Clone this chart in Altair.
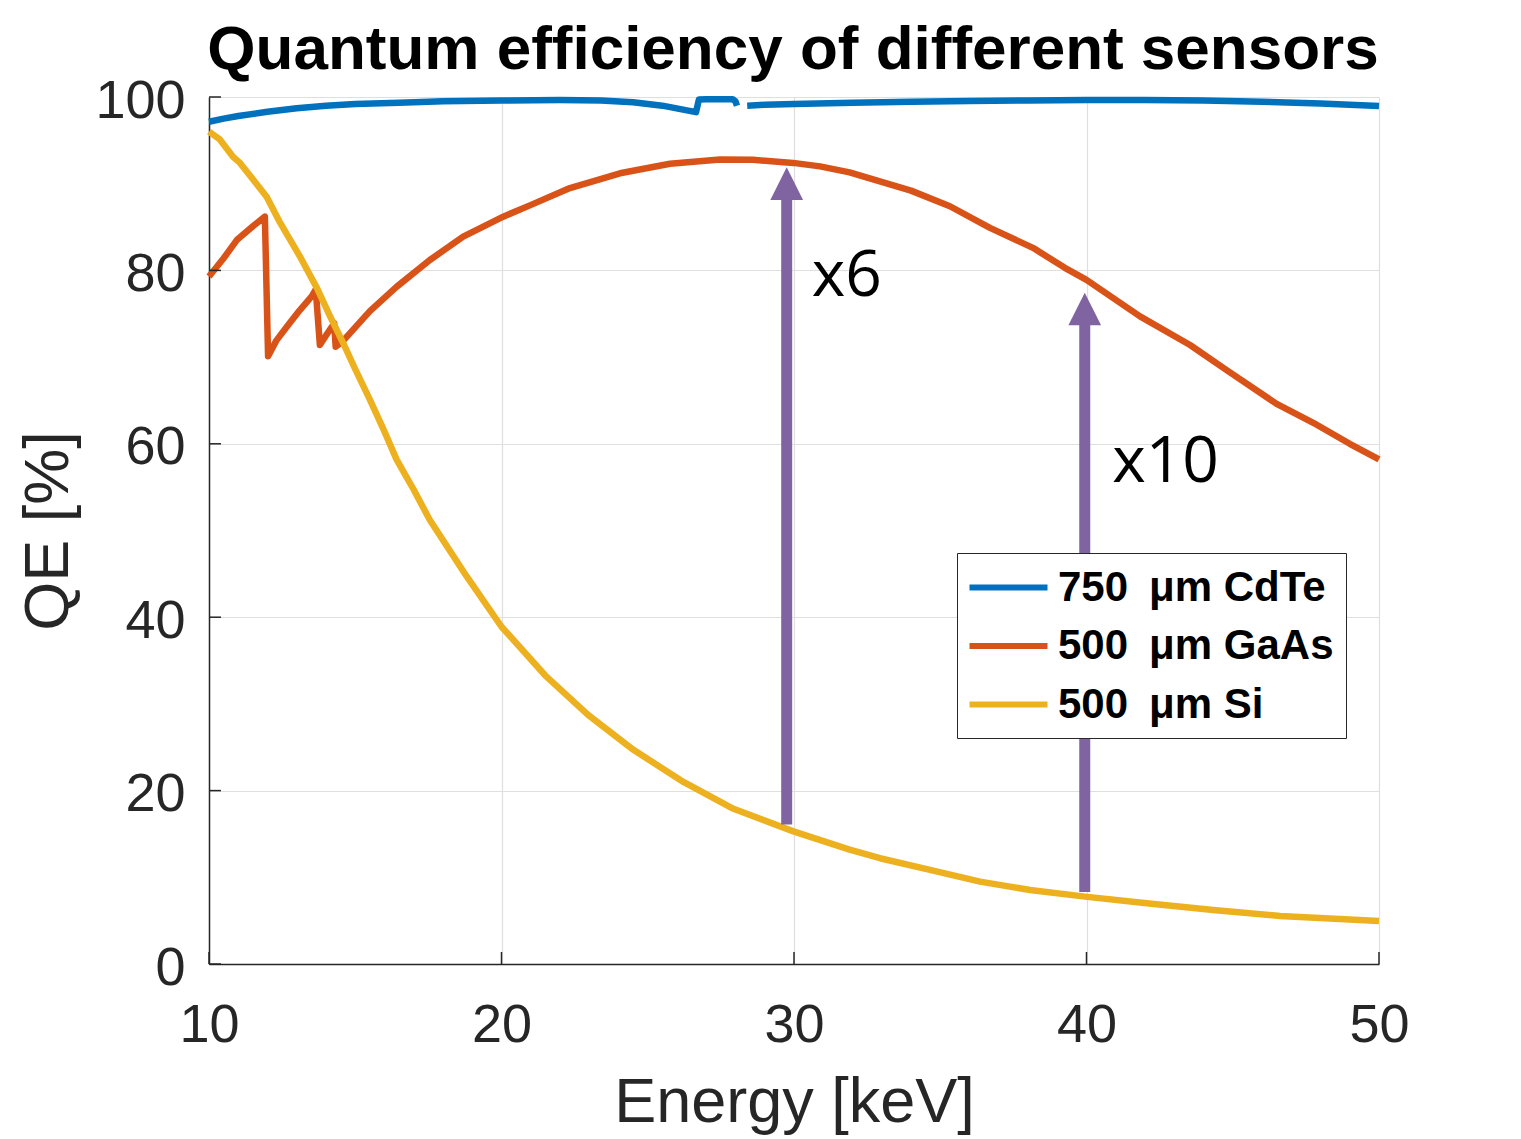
import altair as alt
import pandas as pd

# ---------------- data ----------------
title_text = "Quantum efficiency of different sensors"
sensors = ["750\u2002μm CdTe", "500\u2002μm GaAs", "500\u2002μm Si"]
colors = ["#0072BD", "#D95319", "#EDB120"]

# CdTe (two pieces: the curve is interrupted just above 28 keV)
cdte_a_E = [10, 10.5, 11, 12, 13, 14, 15, 16.5, 18, 20, 22, 23.4, 24.5, 25.5,
            26.65, 26.75, 27.0, 27.9, 28.0, 28.05]
cdte_a_QE = [97.15, 97.5, 97.8, 98.3, 98.7, 99.0, 99.2, 99.35, 99.5, 99.6, 99.65,
             99.6, 99.4, 99.0, 98.25, 99.7, 99.75, 99.75, 99.5, 99.0]
cdte_b_E = [28.4, 29, 30, 32, 34, 36, 38, 40, 42, 44, 46, 48, 50]
cdte_b_QE = [99.0, 99.1, 99.2, 99.35, 99.45, 99.55, 99.6, 99.65, 99.65, 99.6,
             99.45, 99.25, 98.95]

gaas_E = [10.0, 10.5, 10.95, 11.5, 11.91, 12.02, 12.3, 12.66, 13.1, 13.51, 13.65,
          13.79, 14.0, 14.28, 14.33, 14.59, 15.5, 16.41, 17.55, 18.69, 20.06, 20.97,
          22.34, 24.05, 25.76, 27.47, 28.6, 29.97, 30.89, 31.9, 34, 35.33, 36.7,
          38.17, 39.26, 40, 41.83, 43.54, 44.79, 46.5, 47.87, 49, 50]
gaas_QE = [79.3, 81.4, 83.5, 85.1, 86.2, 70.1, 71.9, 73.5, 75.4, 77.0, 77.8,
           71.4, 72.5, 73.9, 71.2, 71.9, 75.3, 78.1, 81.2, 83.9, 86.2, 87.5,
           89.5, 91.2, 92.3, 92.8, 92.75, 92.4, 92.0, 91.3, 89.2, 87.4, 84.9,
           82.6, 80.3, 78.9, 74.7, 71.4, 68.5, 64.6, 62.2, 60.0, 58.2]

si_E = [10.0, 10.37, 10.82, 11.06, 11.5, 11.97, 12.43, 13.11, 13.7, 14.14, 14.59,
        15.0, 15.5, 16.0, 16.41, 17.0, 17.55, 18.81, 20.0, 21.49, 22.97, 24.51,
        26.22, 27.93, 29.98, 31.9, 32.94, 34.65, 36.36, 38.07, 39.95, 42.06, 44.33,
        46.62, 50.0]
si_QE = [96.0, 95.1, 93.1, 92.4, 90.5, 88.5, 85.5, 81.6, 77.9, 74.7, 71.6,
         68.6, 65.1, 61.4, 58.2, 54.7, 51.2, 44.7, 38.9, 33.3, 28.7, 24.7,
         21.0, 17.9, 15.3, 13.2, 12.2, 10.85, 9.5, 8.54, 7.77, 7.0, 6.23,
         5.54, 4.95]

# annotation arrows (x position, tail, shaft top, head centre)
arrow_E = [29.75, 39.94]
arrow_tail = [16.1, 8.3]
arrow_base = [88.4, 73.9]
arrow_head = [90.0, 75.55]

# annotation texts
note_text = ["x6", "x10"]
note_E = [30.61, 40.88]
note_QE = [77.0, 55.6]

x_ticks = [10, 20, 30, 40, 50]
y_ticks = [0, 20, 40, 60, 80, 100]

# ---------------- tables ----------------
rows = []
for e, q in zip(cdte_a_E, cdte_a_QE):
    rows.append({"E": e, "QE": q, "sensor": sensors[0], "seg": "CdTe-a"})
for e, q in zip(cdte_b_E, cdte_b_QE):
    rows.append({"E": e, "QE": q, "sensor": sensors[0], "seg": "CdTe-b"})
for e, q in zip(gaas_E, gaas_QE):
    rows.append({"E": e, "QE": q, "sensor": sensors[1], "seg": "GaAs"})
for e, q in zip(si_E, si_QE):
    rows.append({"E": e, "QE": q, "sensor": sensors[2], "seg": "Si"})
lines_df = pd.DataFrame(rows)

arrows_df = pd.DataFrame({"E": arrow_E, "QE": arrow_tail, "QE2": arrow_base})
heads_df = pd.DataFrame({"E": arrow_E, "QE": arrow_head})
notes_df = pd.DataFrame({"E": note_E, "QE": note_QE, "label": note_text})
title_df = pd.DataFrame({"label": [title_text]})
xt_df = pd.DataFrame({"E": x_ticks})
yt_df = pd.DataFrame({"QE": y_ticks})

# ---------------- encodings ----------------
xs = alt.Scale(domain=[10, 50], nice=False, zero=False)
ys = alt.Scale(domain=[0, 100], nice=False)
xaxis = alt.Axis(title="Energy [keV]", values=x_ticks, format="d", labelFlush=False)
yaxis = alt.Axis(title="QE [%]", values=y_ticks, format="d", labelFlush=False)
X = alt.X("E:Q", scale=xs, axis=xaxis)
Y = alt.Y("QE:Q", scale=ys, axis=yaxis)

purple = "#8064A2"

lines = alt.Chart(lines_df).mark_line(strokeWidth=6.5, strokeJoin="round").encode(
    x=X,
    y=Y,
    color=alt.Color(
        "sensor:N",
        scale=alt.Scale(domain=sensors, range=colors),
        sort=sensors,
        legend=alt.Legend(
            orient="none",
            legendX=748,
            legendY=456,
            title=None,
            symbolType="M -2 0 L 2 0",
            symbolSize=1521,
            symbolStrokeWidth=6,
            symbolOffset=17,
            labelFont="Liberation Sans",
            labelFontWeight="bold",
            labelFontSize=42,
            labelColor="black",
            labelOffset=27,
            labelLimit=400,
            fillColor="white",
            strokeColor="#262626",
            padding=12,
            rowPadding=14.5,
        ),
    ),
    detail="seg:N",
)

shafts = alt.Chart(arrows_df).mark_rule(color=purple, strokeWidth=11, strokeCap="butt").encode(
    x=X, y=Y, y2="QE2:Q"
)

heads = alt.Chart(heads_df).mark_point(
    shape="M -1 1 L 0 -1 L 1 1 Z", size=1070, filled=True, color=purple, opacity=1
).encode(x=X, y=Y)

notes = alt.Chart(notes_df).mark_text(
    align="left", baseline="alphabetic", font="Open Sans", fontSize=64, color="black"
).encode(x=X, y=Y, text="label:N")

title = alt.Chart(title_df).mark_text(
    align="center", baseline="alphabetic", font="Liberation Sans", fontSize=62,
    fontWeight="bold", color="black"
).encode(x=alt.value(584), y=alt.value(-28), text="label:N")

xticks = alt.Chart(xt_df).mark_rule(color="#262626", strokeWidth=1.5).encode(
    x=X, y=alt.value(867), y2=alt.value(855)
)
yticks = alt.Chart(yt_df).mark_rule(color="#262626", strokeWidth=1.5).encode(
    y=Y, x=alt.value(0), x2=alt.value(12)
)

chart = alt.layer(lines, shafts, heads, notes, xticks, yticks, title).properties(
    width=1170,
    height=867,
    autosize=alt.AutoSizeParams(type="none"),
    padding={"left": 201, "top": 89, "right": 130, "bottom": 172},
).configure_axis(
    labelFont="Liberation Sans",
    labelFontSize=54,
    labelColor="#262626",
    titleFont="Liberation Sans",
    titleFontSize=63,
    titleFontWeight="normal",
    titleColor="#262626",
    gridColor="#DFDFDF",
    gridWidth=1.2,
    domainColor="#262626",
    domainWidth=1.5,
    ticks=False,
    tickSize=0,
).configure_axisX(
    labelPadding=34, titlePadding=69, titleBaseline="alphabetic"
).configure_axisY(
    labelPadding=24, titlePadding=27, titleBaseline="alphabetic", labelOffset=4
).configure_view(strokeWidth=0)

chart.save("out.html", embed_options={"renderer": "svg", "actions": False})
